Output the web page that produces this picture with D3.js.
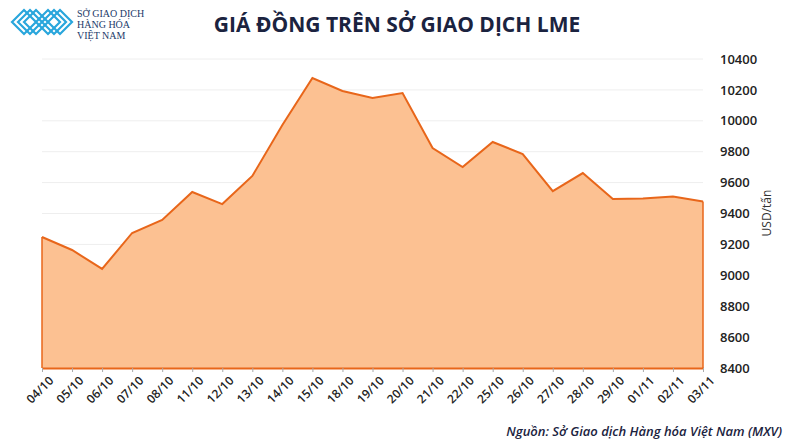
<!DOCTYPE html>
<html><head><meta charset="utf-8">
<script src="https://cdn.jsdelivr.net/npm/d3@7"></script>
<style>body{margin:0;background:#fff;font-family:"Open Sans",sans-serif}</style>
</head><body>
<svg id="c" width="790" height="444"></svg>
<script>
var dates = ["04/10","05/10","06/10","07/10","08/10","11/10","12/10","13/10","14/10","15/10","18/10","19/10","20/10","21/10","22/10","25/10","26/10","27/10","28/10","29/10","01/11","02/11","03/11"];
var prices = [9248,9164,9041,9274,9358,9539,9461,9643,9973,10277,10193,10147,10180,9824,9701,9863,9785,9545,9662,9494,9497,9510,9478];
var yTicks = [8400,8600,8800,9000,9200,9400,9600,9800,10000,10200,10400];

var svg = d3.select("#c");
var plotLeft = 42, plotRight = 703, plotTop = 59, plotBottom = 368;

var x = d3.scalePoint().domain(dates).range([plotLeft, plotRight]);
var y = d3.scaleLinear().domain([8400, 10400]).range([plotBottom, plotTop]);

// grid
svg.append("g").selectAll("line").data(yTicks).enter().append("line")
  .attr("x1", plotLeft).attr("x2", plotRight)
  .attr("y1", d => y(d)).attr("y2", d => y(d))
  .attr("stroke", "#eeeeee").attr("stroke-width", 1);

// area + line
svg.append("path").datum(prices)
  .attr("fill", "#fcc192")
  .attr("d", d3.area().x((d, i) => x(dates[i])).y0(plotBottom).y1(d => y(d)));
svg.append("path").datum(prices)
  .attr("fill", "none").attr("stroke", "#e8661a").attr("stroke-width", 2)
  .attr("d", d3.line().x((d, i) => x(dates[i])).y(d => y(d)));
svg.append("line").attr("x1", plotLeft).attr("x2", plotLeft).attr("y1", y(prices[0])).attr("y2", plotBottom)
  .attr("stroke", "#e8661a").attr("stroke-width", 1.5);
svg.append("line").attr("x1", plotRight).attr("x2", plotRight).attr("y1", y(prices[prices.length-1])).attr("y2", plotBottom)
  .attr("stroke", "#e8661a").attr("stroke-width", 1.5);

// x axis
var xa = svg.append("g").attr("transform", `translate(0,${plotBottom})`)
  .call(d3.axisBottom(x).tickSize(4).tickSizeOuter(0));
xa.select(".domain").attr("stroke", "#e8661a").attr("stroke-width", 2);
xa.selectAll(".tick line").attr("stroke", "#aaa");
xa.selectAll("text")
  .attr("font-family", "Open Sans").attr("font-size", 12).attr("font-weight", 600).attr("fill", "#222")
  .attr("text-anchor", "end").attr("dx", "-0.1em").attr("dy", "0.9em")
  .attr("transform", "rotate(-45)");

// y axis
var ya = svg.append("g").attr("transform", `translate(${plotRight + 14},0)`)
  .call(d3.axisRight(y).tickValues(yTicks).tickSize(0).tickFormat(d3.format("d")));
ya.select(".domain").remove();
ya.selectAll("text").attr("font-family", "Open Sans").attr("font-size", 13).attr("font-weight", 600).attr("fill", "#222");

svg.append("text").attr("transform", "translate(771,213) rotate(-90)")
  .attr("text-anchor", "middle").attr("font-size", 12).attr("fill", "#333").text("USD/tấn");

// title
svg.append("text").attr("x", 397).attr("y", 32).attr("text-anchor", "middle")
  .attr("font-size", 21).attr("font-weight", 700).attr("fill", "#1b2340").text("GIÁ ĐỒNG TRÊN SỞ GIAO DỊCH LME");

// logo
var lg = svg.append("g").attr("fill", "none").attr("stroke", "#29a6dc").attr("stroke-width", 2.2);
[0, 6, 12].forEach(function(o) {
  lg.append("path").attr("d", `M${12+o},22 L${24+o},${10} L${36+o},22 L${24+o},34 Z`);
  lg.append("path").attr("d", `M${36+o},22 L${48+o},${10} L${60+o},22 L${48+o},34 Z`);
});
svg.append("text").attr("x", 77).attr("y", 17).attr("font-family", "Liberation Serif").attr("font-size", 10).attr("fill", "#1b3a6a").text("SỞ GIAO DỊCH");
svg.append("text").attr("x", 77).attr("y", 28).attr("font-family", "Liberation Serif").attr("font-size", 10).attr("fill", "#1b3a6a").text("HÀNG HÓA");
svg.append("text").attr("x", 77).attr("y", 39).attr("font-family", "Liberation Serif").attr("font-size", 10).attr("fill", "#1b3a6a").text("VIỆT NAM");

// source
svg.append("text").attr("x", 782).attr("y", 436).attr("text-anchor", "end")
  .attr("font-size", 13).attr("font-weight", 600).attr("font-style", "italic").attr("fill", "#1b2340")
  .text("Nguồn: Sở Giao dịch Hàng hóa Việt Nam (MXV)");
</script>
</body></html>
